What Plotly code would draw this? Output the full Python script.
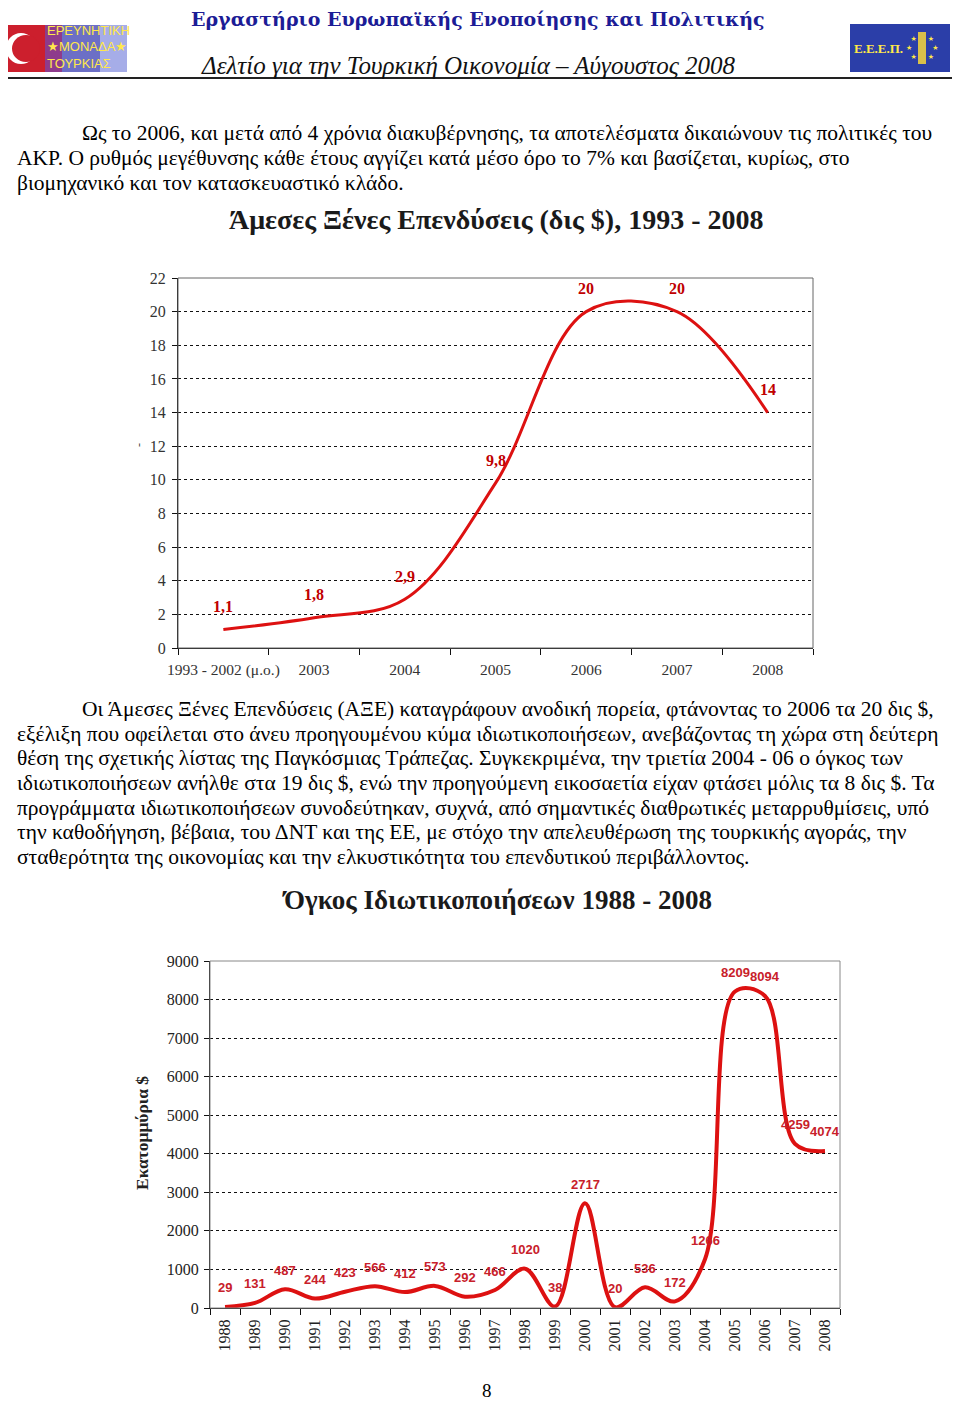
import plotly.graph_objects as go

# page is 960x1403; the html body adds an 8px margin, so the figure is drawn 8px smaller
PAGE_OFF = 8
FW, FH = 952, 1395

# ---- data -------------------------------------------------------------
fdi_periods = ["1993 - 2002 (μ.ο.)", "2003", "2004", "2005", "2006", "2007", "2008"]
fdi_values = [1.1, 1.8, 2.9, 9.8, 20, 20, 14]
fdi_labels = ["1,1", "1,8", "2,9", "9,8", "20", "20", "14"]

priv_years = [str(y) for y in range(1988, 2009)]
priv_values = [29, 131, 487, 244, 423, 566, 412, 573, 292, 466, 1020,
               38, 2717, 20, 536, 172, 1266, 8209, 8094, 4259, 4074]

para1 = [
    "Ως το 2006, και μετά από 4 χρόνια διακυβέρνησης, τα αποτελέσματα δικαιώνουν τις πολιτικές του",
    "ΑΚΡ. Ο ρυθμός μεγέθυνσης κάθε έτους αγγίζει κατά μέσο όρο το 7% και βασίζεται, κυρίως, στο",
    "βιομηχανικό και τον κατασκευαστικό κλάδο.",
]
para2 = [
    "Οι Άμεσες Ξένες Επενδύσεις (ΑΞΕ) καταγράφουν ανοδική πορεία, φτάνοντας το 2006 τα 20 δις $,",
    "εξέλιξη που οφείλεται στο άνευ προηγουμένου κύμα ιδιωτικοποιήσεων, ανεβάζοντας τη χώρα στη δεύτερη",
    "θέση της σχετικής λίστας της Παγκόσμιας Τράπεζας. Συγκεκριμένα, την τριετία 2004 - 06 ο όγκος των",
    "ιδιωτικοποιήσεων ανήλθε στα 19 δις $, ενώ την προηγούμενη εικοσαετία είχαν φτάσει μόλις τα 8 δις $. Τα",
    "προγράμματα ιδιωτικοποιήσεων συνοδεύτηκαν, συχνά, από σημαντικές διαθρωτικές μεταρρυθμίσεις, υπό",
    "την καθοδήγηση, βέβαια, του ΔΝΤ και της ΕΕ, με στόχο την απελευθέρωση της τουρκικής αγοράς, την",
    "σταθερότητα της οικονομίας και την ελκυστικότητα του επενδυτικού περιβάλλοντος.",
]


def px(x):
    # page pixel -> paper fraction
    return (x - PAGE_OFF) / FW


def py(y):
    return 1 - (y - PAGE_OFF) / FH


SERIF = "Liberation Serif"
RED = "#dd1111"


def note(x, y, text, **kw):
    d = dict(x=px(x), y=py(y), xref="paper", yref="paper", text=text, showarrow=False,
             xanchor="center", yanchor="middle")
    d.update(kw)
    return d


fig = go.Figure()

# FDI line
fig.add_trace(go.Scatter(
    x=fdi_periods, y=fdi_values, mode="lines",
    line=dict(color=RED, width=3, shape="spline", smoothing=1.0),
    xaxis="x", yaxis="y", hoverinfo="x+y", showlegend=False,
))

# privatisation line
fig.add_trace(go.Scatter(
    x=priv_years, y=priv_values, mode="lines",
    line=dict(color=RED, width=4, shape="spline", smoothing=1.0),
    xaxis="x2", yaxis="y2", hoverinfo="x+y", showlegend=False,
))

annotations = []

# point labels (x given as category index so "2003" is not read as a number)
for i, (v, t) in enumerate(zip(fdi_values, fdi_labels)):
    annotations.append(dict(x=i, y=v, xref="x", yref="y", text=t, showarrow=False, yshift=23,
                            font=dict(family=SERIF, size=16, color="#c00000", weight="bold")))
for i, v in enumerate(priv_values):
    annotations.append(dict(x=i, y=v, xref="x2", yref="y2", text=str(v), showarrow=False, yshift=19,
                            font=dict(family="Liberation Sans", size=13, color="#c8202a", weight="bold")))

LOGO_FONT = dict(family="Liberation Sans Narrow, Liberation Sans", size=13, color="#ffe84a")

# header
annotations += [
    note(478, 19, "Εργαστήριο Ευρωπαϊκής Ενοποίησης και Πολιτικής",
         font=dict(family="DejaVu Serif", size=19, color="#1c1c96", weight="bold")),
    note(468, 65, "Δελτίο για την Τουρκική Οικονομία – Αύγουστος 2008",
         font=dict(family=SERIF, size=25, color="#111", style="italic")),
    note(88, 31, "ΕΡΕΥΝΗΤΙΚΗ", font=LOGO_FONT),
    note(87, 47, "★ΜΟΝΑΔΑ★", font=LOGO_FONT),
    note(79, 63, "ΤΟΥΡΚΙΑΣ", font=LOGO_FONT),
    note(878, 48, "Ε.Ε.Ε.Π.", font=dict(family=SERIF, size=13, color="#ffe84a", weight="bold")),
    note(922, 48, "★     ★<br>★         ★<br>★     ★", font=dict(family="DejaVu Sans", size=7, color="#ffe84a")),
]

# body text
for i, line in enumerate(para1):
    annotations.append(note(80 if i == 0 else 15, 133 + 25 * i, line, xanchor="left",
                            font=dict(family=SERIF, size=21.5, color="#000")))
for i, line in enumerate(para2):
    annotations.append(note(80 if i == 0 else 15, 709 + 24.7 * i, line, xanchor="left",
                            font=dict(family=SERIF, size=21.5, color="#000")))

# chart titles, axis title, page number
annotations += [
    note(497, 220, "Άμεσες Ξένες Επενδύσεις (δις $), 1993 - 2008",
         font=dict(family=SERIF, size=28, color="#1a1a1a", weight="bold")),
    note(497, 900, "Όγκος Ιδιωτικοποιήσεων 1988 - 2008",
         font=dict(family=SERIF, size=27, color="#1a1a1a", weight="bold")),
    note(142, 1133, "Εκατομμύρια $", textangle=-90,
         font=dict(family=SERIF, size=17.5, color="#222", weight="bold")),
    note(139, 445, "-", textangle=-90, font=dict(family=SERIF, size=12, color="#444")),
    note(487, 1390, "8", font=dict(family=SERIF, size=19, color="#000")),
]


def rect(x0, x1, y0, y1, color, **kw):
    d = dict(type="rect", xref="paper", yref="paper", x0=px(x0), x1=px(x1), y0=py(y1), y1=py(y0),
             fillcolor=color, line=dict(width=0))
    d.update(kw)
    return d


shapes = [
    # header rule
    dict(type="line", xref="paper", yref="paper", x0=px(0), x1=px(956), y0=py(78), y1=py(78),
         line=dict(color="#222", width=2)),
    # left logo
    rect(5, 45, 25, 72, "#cc1f2d", layer="below"),
    rect(45, 62, 25, 72, "#8e3b8c", layer="below"),
    rect(62, 100, 25, 72, "#6c6fc6", layer="below"),
    rect(100, 127, 25, 72, "#a6ade8", layer="below"),
    dict(type="circle", xref="paper", yref="paper", x0=px(6), x1=px(36), y0=py(64), y1=py(33),
         fillcolor="white", line=dict(width=0)),
    dict(type="circle", xref="paper", yref="paper", x0=px(12), x1=px(40), y0=py(62), y1=py(35),
         fillcolor="#cc1f2d", line=dict(width=0)),
    # right logo
    rect(850, 950, 24, 72, "#2b3ea8", layer="below"),
    rect(918, 926, 32, 64, "#d8c04a"),
    # chart frames
    dict(type="rect", xref="x domain", yref="y domain", x0=0, x1=1, y0=0, y1=1,
         line=dict(color="#666", width=1)),
    dict(type="rect", xref="x2 domain", yref="y2 domain", x0=0, x1=1, y0=0, y1=1,
         line=dict(color="#888", width=1)),
]

axis_common = dict(showline=True, linecolor="#111", linewidth=1, ticks="outside",
                   tickcolor="#111", zeroline=False, fixedrange=True, automargin=False)

fig.update_layout(
    width=FW, height=FH,
    margin=dict(l=0, r=0, t=0, b=0, autoexpand=False),
    paper_bgcolor="white", plot_bgcolor="white",
    showlegend=False,
    annotations=annotations,
    shapes=shapes,
    xaxis=dict(domain=[px(178), px(813)], anchor="y", type="category", tickson="boundaries",
               ticklen=6, showgrid=False, range=[-0.5, 6.5], tickangle=0, ticklabelstandoff=7,
               tickfont=dict(family=SERIF, size=15.5, color="#333"), **axis_common),
    yaxis=dict(domain=[py(648), py(278)], anchor="x", range=[0, 22], dtick=2, ticklen=5,
               showgrid=True, gridcolor="#111", griddash="dot", gridwidth=1, ticklabelstandoff=3,
               tickfont=dict(family=SERIF, size=16, color="#333"), **axis_common),
    xaxis2=dict(domain=[px(210), px(840)], anchor="y2", type="category", tickson="boundaries",
                ticklen=6, showgrid=False, range=[-0.5, 20.5], tickangle=-90, ticklabelstandoff=4,
                tickfont=dict(family=SERIF, size=16, color="#222"), **axis_common),
    yaxis2=dict(domain=[py(1308), py(961)], anchor="x2", range=[0, 9000], dtick=1000, ticklen=5,
                showgrid=True, gridcolor="#111", griddash="dot", gridwidth=1, ticklabelstandoff=2,
                tickfont=dict(family=SERIF, size=16, color="#222"), **axis_common),
)

fig.write_html("out.html")
